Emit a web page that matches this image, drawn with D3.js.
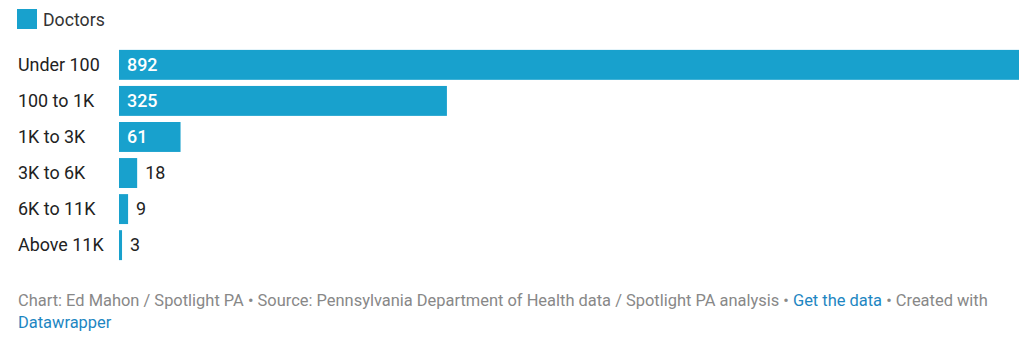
<!DOCTYPE html>
<html>
<head>
<meta charset="utf-8">
<script src="https://cdn.jsdelivr.net/npm/d3@7"></script>
<style>
  html, body { margin: 0; padding: 0; background: #fff; }
  body { width: 1026px; height: 345px; overflow: hidden; font-family: Roboto, "Noto Sans", sans-serif; }
  .footer { position: absolute; left: 18px; top: 289.5px; width: 1000px; font-size: 16.45px; line-height: 22px; color: #888; }
  .footer a { color: #1d86c2; text-decoration: none; }
</style>
</head>
<body>
<svg id="chart" width="1026" height="280" style="position:absolute;left:0;top:0"></svg>
<div class="footer">Chart: Ed Mahon / Spotlight PA • Source: Pennsylvania Department of Health data / Spotlight PA analysis • <a>Get the data</a> • Created with <a>Datawrapper</a></div>
<script>
const categories = ["Under 100", "100 to 1K", "1K to 3K", "3K to 6K", "6K to 11K", "Above 11K"];
const doctors = [892, 325, 61, 18, 9, 3];
const seriesName = "Doctors";
const barColor = "#18a1cd";

const svg = d3.select("#chart");

// Legend
const legend = svg.append("g").attr("transform", "translate(17,9)");
legend.append("rect").attr("width", 20).attr("height", 20).attr("fill", barColor);
legend.append("text").attr("x", 26).attr("y", 16.5).attr("font-size", 17.7).attr("fill", "#333").text(seriesName);

const x = d3.scaleLinear().domain([0, d3.max(doctors)]).range([119, 1019]);
const y = d3.scaleBand().domain(categories).range([47, 263]).paddingInner(0.17).paddingOuter(0.08);

const rows = svg.selectAll("g.row").data(categories.map((c, i) => ({ c, v: doctors[i] })))
  .join("g").attr("class", "row");

rows.append("text")
  .attr("x", 18)
  .attr("y", d => y(d.c) + y.bandwidth() / 2)
  .attr("dy", "0.35em")
  .attr("font-size", 17.9)
  .attr("fill", "#222")
  .text(d => d.c);

rows.append("rect")
  .attr("x", x(0))
  .attr("y", d => y(d.c))
  .attr("width", d => Math.max(0, x(d.v) - x(0)))
  .attr("height", y.bandwidth())
  .attr("fill", barColor);

rows.append("text")
  .attr("y", d => y(d.c) + y.bandwidth() / 2)
  .attr("dy", "0.35em")
  .attr("font-size", 17.9)
  .each(function (d) {
    const w = x(d.v) - x(0);
    const inside = w > 40;
    d3.select(this)
      .attr("x", inside ? x(0) + 8 : x(d.v) + 8)
      .attr("fill", inside ? "#fff" : "#222")
      .attr("font-weight", inside ? 500 : 400);
  })
  .text(d => d.v);
</script>
</body>
</html>
